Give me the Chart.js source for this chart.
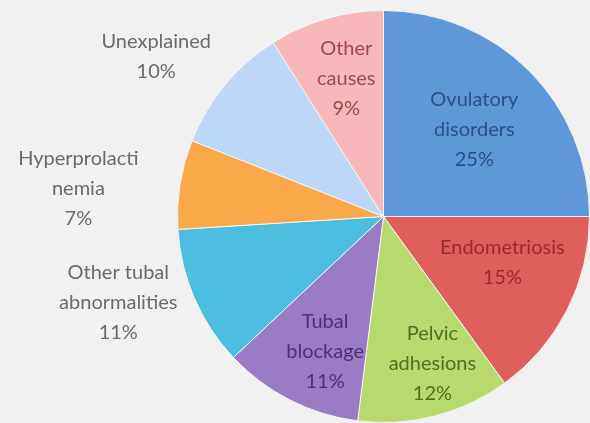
<!DOCTYPE html>
<html>
<head>
<meta charset="utf-8">
<script src="https://cdn.jsdelivr.net/npm/chart.js@4"></script>
<style>
  html, body { margin: 0; padding: 0; background: #f1f1f1; }
  #wrap { width: 590px; height: 423px; }
</style>
</head>
<body>
<div id="wrap"><canvas id="pie" width="590" height="423"></canvas></div>
<script>
// Causes of infertility, clockwise from 12 o'clock
var causes = ['Ovulatory disorders', 'Endometriosis', 'Pelvic adhesions', 'Tubal blockage',
              'Other tubal abnormalities', 'Hyperprolactinemia', 'Unexplained', 'Other causes'];
var shares = [25, 15, 12, 11, 11, 7, 10, 9];

// how each label is broken into lines in the picture
var labelLines = [
    ['Ovulatory', 'disorders'],
    ['Endometriosis'],
    ['Pelvic', 'adhesions'],
    ['Tubal', 'blockage'],
    ['Other tubal', 'abnormalities'],
    ['Hyperprolacti', 'nemia'],
    ['Unexplained'],
    ['Other', 'causes']
];

var fills = ['#5f98d8', '#e05f5d', '#b7da6e', '#9a7cc4', '#4cbfe0', '#f9a84a', '#bcd7f8', '#f8b7b8'];
var textColors = ['#2c4f8c', '#9c2a2a', '#4a7420', '#4a3178', '#6a6a6a', '#6a6a6a', '#6a6a6a', '#9a4b4b'];

// label placement: fraction of radius along mid angle, then a small nudge
var labelRadius = [0.61, 0.62, 0.74, 0.71, 1.35, 1.48, 1.35, 0.70];
var labelNudge = [[2, 2], [5, -12], [11, -1], [8, 5], [-10, -24], [-4, 20], [-13, 17], [3, 1]];

var sliceLabels = {
    id: 'sliceLabels',
    afterDatasetsDraw: function(chart) {
        var ctx = chart.ctx;
        var arcs = chart.getDatasetMeta(0).data;
        ctx.save();
        ctx.font = '20px Lato, "Open Sans", sans-serif';
        ctx.textAlign = 'center';
        ctx.textBaseline = 'middle';
        arcs.forEach(function(arc, i) {
            var p = arc.getProps(['x', 'y', 'startAngle', 'endAngle', 'outerRadius'], true);
            var mid = (p.startAngle + p.endAngle) / 2;
            var r = p.outerRadius * labelRadius[i];
            var cx = p.x + Math.cos(mid) * r + labelNudge[i][0];
            var cy = p.y + Math.sin(mid) * r + labelNudge[i][1];
            var lines = labelLines[i].concat([shares[i] + '%']);
            var lh = 30;
            var y0 = cy - (lines.length - 1) * lh / 2;
            ctx.fillStyle = textColors[i];
            lines.forEach(function(t, k) {
                ctx.fillText(t, cx, y0 + k * lh);
            });
        });
        ctx.restore();
    }
};

new Chart(document.getElementById('pie'), {
    type: 'pie',
    data: {
        labels: causes,
        datasets: [{
            data: shares,
            backgroundColor: fills,
            borderColor: '#f4f4f4',
            borderWidth: 1
        }]
    },
    options: {
        responsive: false,
        animation: false,
        layout: { padding: { left: 177, top: 10, right: 0, bottom: 0 } },
        plugins: {
            legend: { display: false },
            tooltip: { enabled: false }
        }
    },
    plugins: [sliceLabels]
});
</script>
</body>
</html>
